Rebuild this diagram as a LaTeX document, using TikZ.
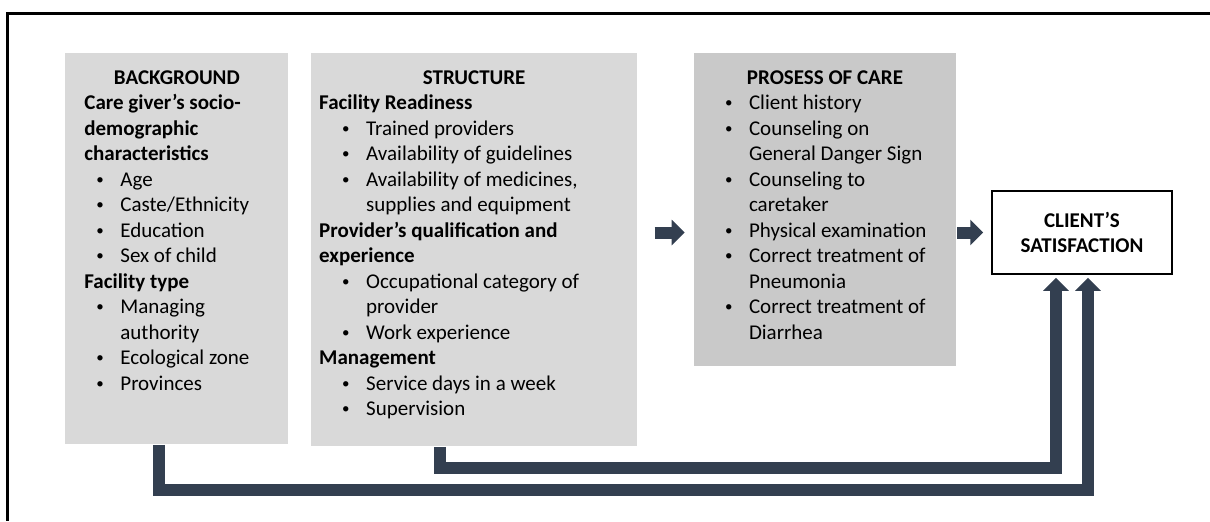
\documentclass[tikz,border=0pt]{standalone}
\usepackage{fontspec}
\setmainfont{Carlito}
\usepackage{xcolor}
\usetikzlibrary{arrows.meta}
\usetikzlibrary{positioning}

\definecolor{slate}{HTML}{333F50}
\definecolor{panelgray}{HTML}{D9D9D9}
\definecolor{caregray}{HTML}{C9C9C9}

\newcommand{\panelfont}{\fontsize{10.5pt}{12.75pt}\selectfont}
% centred heading, first line of every panel
\newcommand{\hd}[1]{\makebox[\linewidth]{\rule{0pt}{15.4pt}\bfseries #1}}
\newcommand{\grp}[2][4pt]{\hspace*{#1}\textbf{#2}}
\newcommand{\itm}[1]{\hspace*{15.5pt}\makebox[12pt][l]{\raisebox{0.9pt}{\fontsize{7.5pt}{7.5pt}\selectfont\textbullet}}#1}
\newcommand{\more}[1]{\hspace*{27.5pt}#1}

\begin{document}
\begin{tikzpicture}[x=0.5pt,y=-0.5pt,
                    panel node/.style={fill=#1,anchor=north west,inner sep=0pt,font=\panelfont},
                    goal node/.style={draw,line width=0.75pt,fill=white,minimum width=90pt,
                                      minimum height=41.5pt,align=center,font=\panelfont\bfseries},
                    flow arrow/.style={draw=slate,line width=6pt,
                                       -{Triangle[width=12.5pt,length=6.5pt]}}]
\useasboundingbox (0,0) rectangle (1210,521);
\draw[line width=1.5pt] (1210,13) -- (7.5,13) -- (7.5,521);

\node[panel node=panelgray] (bg) at (65,53) {\parbox[t][195.5pt][t]{111.5pt}{%
  \hd{BACKGROUND}\\
  \grp[9.5pt]{Care giver’s socio-}\\
  \grp[9.5pt]{demographic}\\
  \grp[9.5pt]{characteristics}\\
  \itm{Age}\\
  \itm{Caste/Ethnicity}\\
  \itm{Education}\\
  \itm{Sex of child}\\
  \grp[9.5pt]{Facility type}\\
  \itm{Managing}\\
  \more{authority}\\
  \itm{Ecological zone}\\
  \itm{Provinces}}};

\node[panel node=panelgray, right=11pt of bg.north east, anchor=north west] (st)
  {\parbox[t][196.5pt][t]{163pt}{%
  \hd{STRUCTURE}\\
  \grp{Facility Readiness}\\
  \itm{Trained providers}\\
  \itm{Availability of guidelines}\\
  \itm{Availability of medicines,}\\
  \more{supplies and equipment}\\
  \grp{Provider’s qualification and}\\
  \grp{experience}\\
  \itm{Occupational category of}\\
  \more{provider}\\
  \itm{Work experience}\\
  \grp{Management}\\
  \itm{Service days in a week}\\
  \itm{Supervision}}};

\node[panel node=caregray, right=28pt of st.north east, anchor=north west] (pc)
  {\parbox[t][156.5pt][t]{131pt}{%
  \hd{PROSESS OF CARE}\\
  \itm{Client history}\\
  \itm{Counseling on}\\
  \more{General Danger Sign}\\
  \itm{Counseling to}\\
  \more{caretaker}\\
  \itm{Physical examination}\\
  \itm{Correct treatment of}\\
  \more{Pneumonia}\\
  \itm{Correct treatment of}\\
  \more{Diarrhea}}};

\node[goal node] (cs) at (1082,232.5) {CLIENT’S\\SATISFACTION};

% block arrows between the panels
\draw[flow arrow,shorten <=8.5pt,shorten >=4.5pt] (st.east |- cs.west) -- (pc.west |- cs.west);
\draw[flow arrow,shorten <=0.5pt,shorten >=4pt] (pc.east |- cs.west) -- (cs.west);

% feedback paths under the panels
\draw[flow arrow,shorten >=1.5pt] ([xshift=-17pt]st.south) -- ++(0,21) -| ([xshift=-13pt]cs.south);
\draw[flow arrow,shorten >=1.5pt] ([xshift=-8.75pt]bg.south) -- ++(0,45) -| ([xshift=3pt]cs.south);

\end{tikzpicture}
\end{document}
